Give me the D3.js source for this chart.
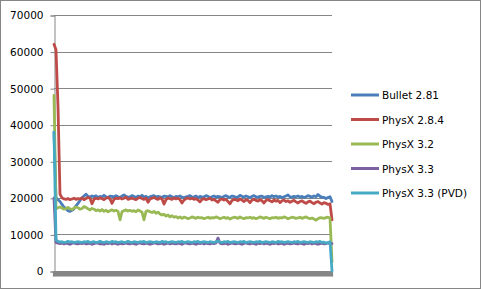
<!DOCTYPE html>
<html><head><meta charset="utf-8">
<script src="https://cdn.jsdelivr.net/npm/d3@7"></script>
<style>html,body{margin:0;padding:0;background:#fff;}svg{display:block;}</style>
</head><body>
<svg id="c" width="481" height="289"></svg>
<script>
const seriesNames = ["Bullet 2.81","PhysX 2.8.4","PhysX 3.2","PhysX 3.3","PhysX 3.3 (PVD)"];
const seriesColors = ["#4A7EBB","#BE4B48","#98B954","#7D60A0","#46AAC5"];
const yTicks = [0,10000,20000,30000,40000,50000,60000,70000];

const bullet = [38000,20000,19500,19000,18200,17500,17000,16500,16300,16600,17000,17800,18500,19300,20000,20500,21000,20400,20200,20500,
20300,20600,20100,20400,20200,20700,20300,20000,20500,20400,20200,20600,20300,20100,20500,20800,20400,20200,20300,20600,
20400,20100,20500,20300,20700,20200,20400,20000,20300,20500,20600,20200,20400,20300,20100,20500,20400,20200,20600,20300,
20100,20400,20300,20500,20200,20000,20300,20400,20600,20200,20300,20500,20100,20400,20200,20300,20600,20400,20100,20300,
20500,20200,20400,20300,20100,20400,20600,20300,20200,20500,20400,20100,20300,20700,20400,20200,20500,20300,20100,20400,
20600,20300,20200,20400,20500,20100,20300,20400,20200,20600,20300,20500,20200,20400,20100,20300,20500,20800,20300,20200,
20400,20300,20500,20200,20400,20100,20300,20600,20400,20200,20500,20300,20900,20400,20200,20100,19800,20100,20300,19000];

const physx284 = [62000,60500,45000,21000,20000,19700,19600,19800,19500,19700,19900,19600,19800,19700,20000,19500,19800,20100,19900,18400,
19600,19900,19700,20000,19800,19500,19900,20100,19700,18500,19600,19900,19800,20000,19700,19900,20200,19600,19800,19900,
19700,19500,19900,20100,19800,19600,19900,18800,19700,19900,20100,19800,19600,20000,19700,18300,19500,19900,19800,19600,
20000,19700,19900,19500,18600,19400,19800,20000,19700,19900,19600,19800,19400,18900,19600,19800,19500,19700,19900,19400,
19600,19200,18800,19500,19700,19400,19600,19000,18400,19300,19600,19500,19200,19700,19400,19000,19500,19300,18700,19400,
19600,19300,19100,19500,19200,18600,19300,19500,19200,18900,19400,19100,19300,18700,19200,19400,19000,19200,18800,19100,
19300,18900,18600,19000,19200,18800,18500,18900,19100,18700,18400,18800,19000,18600,18300,18700,18500,18200,18400,14000];

const physx32 = [48000,17000,17300,17500,17200,16900,17100,17400,17000,16800,17200,17500,17300,16900,17100,17600,17400,17000,16700,17100,
16900,16500,16700,16400,16800,16300,16600,16200,16500,16700,16400,16600,16300,14000,16200,16500,16700,16400,16600,16300,
16500,16200,16700,16400,16100,14000,16300,16500,16200,16000,16300,15800,16100,15600,15300,15500,15000,15300,14800,15100,
14700,14900,14500,14800,14400,14700,14600,14300,14500,14800,14600,14400,14700,14500,14600,14300,14500,14700,14400,14600,
14500,14800,14600,14300,14500,14700,14400,14600,14200,14500,14700,14600,14400,14800,14500,14300,14600,14500,14700,14400,
14600,14300,14500,14800,14600,14400,14700,14500,14300,14600,14500,14700,14400,14600,14500,14800,14600,14300,14500,14700,
14600,14400,14500,14700,14400,14600,14800,14500,14300,14500,14200,13900,14300,14600,14500,14400,14600,14700,14500,2500];

const physx33 = [20000,7800,7600,7500,7700,7400,7600,7500,7300,7600,7700,7500,7400,7600,7500,7700,7400,7500,7600,7300,
7500,7700,7600,7400,7500,7300,7600,7500,7700,7400,7600,7500,7300,7600,7400,7500,7700,7500,7400,7600,
7500,7300,7600,7700,7500,7400,7600,7500,7300,7500,7700,7600,7400,7500,7600,7300,7500,7700,7400,7600,
7500,7400,7600,7500,7300,7600,7700,7500,7400,7600,7500,7300,7600,7500,7700,7400,7600,7500,7400,7600,
7500,7700,9000,7600,7400,7500,7600,7300,7500,7700,7500,7400,7600,7500,7300,7600,7700,7500,7400,7600,
7500,7300,7600,7500,7700,7400,7600,7500,7300,7600,7500,7700,7400,7500,7600,7300,7500,7600,7400,7500,
7700,7500,7400,7600,7500,7300,7600,7500,7700,7400,7600,7500,7300,7500,7600,7400,7500,7700,7500,7500];

const physx33pvd = [38000,8500,8100,7900,8000,7800,7900,8100,7900,8000,7800,7900,8000,7900,7800,8000,7900,8100,7800,7900,
8000,7800,7900,8100,7900,7800,8000,7900,7800,8100,7900,8000,7800,7900,8000,7800,7900,8100,7900,7800,
8000,7900,7800,8000,7900,8100,7800,7900,8000,7900,7800,8000,7900,7800,8100,7900,8000,7800,7900,8000,
7900,7800,8000,7900,8100,7800,7900,8000,7900,7800,8000,7900,8100,7800,7900,8000,7900,7800,8000,7900,
7800,8000,8200,7900,7800,8000,7900,8100,7800,7900,8000,7900,7800,8000,7900,8100,7800,7900,8000,7900,
7800,8000,7900,8100,7800,7900,8000,7900,7800,8000,7900,7800,8100,7900,8000,7800,7900,8000,7900,7800,
8000,7900,8100,7800,7900,8000,7900,7800,8000,7900,7800,8000,7900,8100,7800,7900,7600,7800,8000,0];

const seriesData = [bullet, physx284, physx32, physx33, physx33pvd];
const categories = d3.range(1, bullet.length + 1);

const svg = d3.select("#c");
const font = "DejaVu Sans";
const pLeft = 54, pRight = 332, pTop = 15, pBottom = 271;

svg.append("rect").attr("x",0.5).attr("y",0.5).attr("width",480).attr("height",288)
  .attr("fill","#fff").attr("stroke","#868686").attr("stroke-width",1);

const x = d3.scalePoint().domain(categories).range([pLeft, pRight]).padding(0);
const y = d3.scaleLinear().domain([0, 70000]).range([pBottom, pTop]);

// gridlines
svg.append("g").selectAll("line").data(yTicks.filter(d => d > 0)).join("line")
  .attr("x1", pLeft).attr("x2", pRight)
  .attr("y1", d => Math.round(y(d)) + 0.5).attr("y2", d => Math.round(y(d)) + 0.5)
  .attr("stroke", "#868686").attr("stroke-width", 1);

// y axis
const yAxis = d3.axisLeft(y).tickValues(yTicks).tickSize(4).tickPadding(7).tickFormat(d3.format("d"));
const gy = svg.append("g").attr("transform", `translate(${pLeft + 0.5},0.5)`).call(yAxis);
gy.select(".domain").attr("stroke", "#868686");
gy.selectAll(".tick line").attr("stroke", "#868686");
gy.selectAll(".tick text").attr("font-family", font).attr("font-size", "10.5px").attr("fill", "#000");

// x axis with dense ticks
const xAxis = d3.axisBottom(x).tickSize(5).tickFormat("").offset(0);
const gx = svg.append("g").attr("transform", `translate(0,${pBottom + 0.5})`).call(xAxis);
gx.select(".domain").attr("stroke", "#868686");
gx.selectAll(".tick line").attr("stroke", "#868686").attr("stroke-width", 2.2);

// lines
const line = d3.line().x((d, i) => x(categories[i])).y(d => y(d));
seriesData.forEach((s, k) => {
  svg.append("path").datum(s).attr("d", line)
    .attr("fill", "none").attr("stroke", seriesColors[k]).attr("stroke-width", 2.8)
    .attr("stroke-linejoin", "round").attr("stroke-linecap", "round");
});

// legend
const lg = svg.append("g");
seriesNames.forEach((n, k) => {
  const ly = 95 + k * 24.5;
  lg.append("line").attr("x1", 351).attr("x2", 379).attr("y1", ly).attr("y2", ly)
    .attr("stroke", seriesColors[k]).attr("stroke-width", 3);
  lg.append("text").attr("x", 382).attr("y", ly + 4).text(n)
    .attr("font-family", font).attr("font-size", "10.5px").attr("fill", "#000");
});
</script>
</body></html>
